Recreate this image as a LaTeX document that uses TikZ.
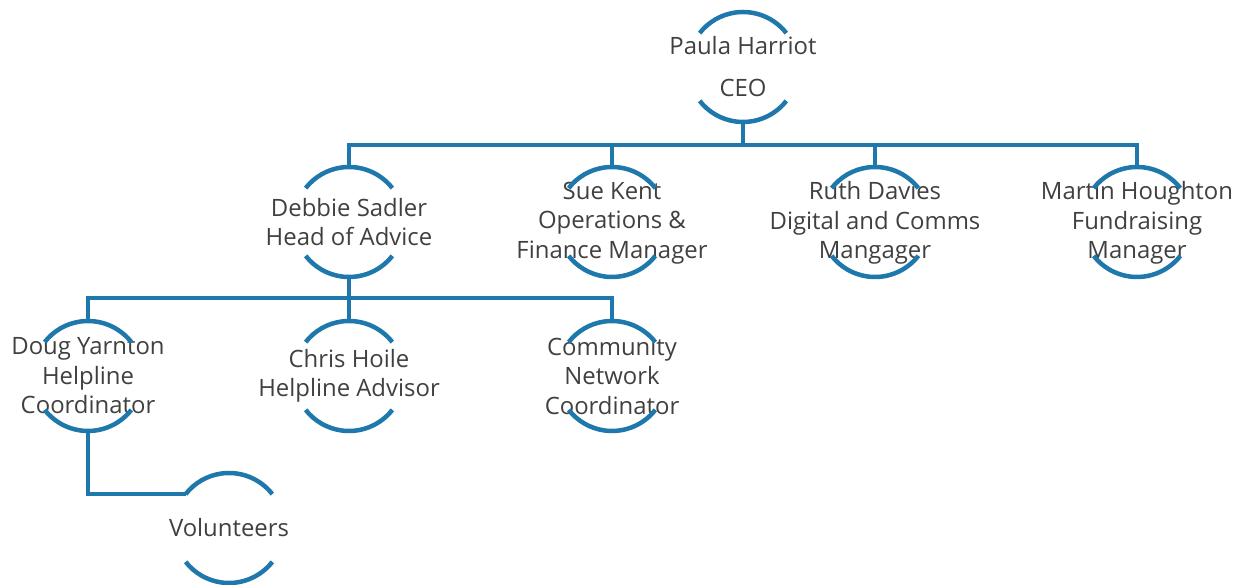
\documentclass[tikz,border=0pt]{standalone}
\usepackage{fontspec}
\setmainfont{Open Sans}
\definecolor{orgblue}{RGB}{31,120,172}
\definecolor{orgtext}{RGB}{64,64,64}
\newcommand{\halfrings}[1]{%
  \draw[ring line] (#1.38) arc[start angle=38,end angle=142,radius=55pt];
  \draw[ring line] (#1.-38) arc[start angle=-38,end angle=-142,radius=55pt];}

\begin{document}
\begin{tikzpicture}[x=1pt,y=1pt,line width=4.5pt,
					ring/.style={circle,minimum size=110pt,inner sep=0pt,outer sep=0pt},
					ring line/.style={orgblue,line width=4.5pt},
					link/.style={orgblue,line width=4.5pt},
					name text/.style={text=orgtext,align=center,font=\fontsize{23.9}{29.5}\selectfont}]
	\useasboundingbox (0,0) rectangle (1243,585);
	\node[ring] (ceo) at (743,518) {};
	\node[ring] (debbie) at (349,363) {};
	\node[ring] (sue) at (612,363) {};
	\node[ring] (ruth) at (875,363) {};
	\node[ring] (martin) at (1137,363) {};
	\node[ring] (doug) at (88,209) {};
	\node[ring] (chris) at (349,209) {};
	\node[ring] (community) at (612,209) {};
	\node[ring] (volunteers) at (229,57) {};

	\node[name text] (ceo t) at (ceo) {Paula Harriot\\[12.5pt]CEO};
	\node[name text] (debbie t) at (debbie) {Debbie Sadler\\Head of Advice};
	\node[name text] (sue t) at ([yshift=-1pt]sue) {Sue Kent\\Operations \&\\Finance Manager};
	\node[name text] (ruth t) at ([yshift=-1pt]ruth) {Ruth Davies\\Digital and Comms\\Mangager};
	\node[name text] (martin t) at ([yshift=-1pt]martin) {Martin Houghton\\Fundraising\\Manager};
	\node[name text] (doug t) at (doug) {Doug Yarnton\\Helpline\\Coordinator};
	\node[name text] (chris t) at (chris) {Chris Hoile\\Helpline Advisor};
	\node[name text] (community t) at (community) {Community\\Network\\Coordinator};
	\node[name text] (volunteers t) at (volunteers) {Volunteers};

	\foreach \n in {ceo,debbie,sue,ruth,martin,doug,chris,community,volunteers}
		{\halfrings{\n}}

	\draw[link] (ceo.south) -- ++(0,-23) -| (debbie.north);
	\draw[link] (ceo.south) -- ++(0,-23) -| (sue.north);
	\draw[link] (ceo.south) -- ++(0,-23) -| (ruth.north);
	\draw[link] (ceo.south) -- ++(0,-23) -| (martin.north);
	\draw[link] (debbie.south) -- ++(0,-21) -| (doug.north);
	\draw[link] (debbie.south) -- ++(0,-21) -| (chris.north);
	\draw[link] (debbie.south) -- ++(0,-21) -| (community.north);
	\draw[link] (doug.south) |- (volunteers.142);
\end{tikzpicture}
\end{document}
